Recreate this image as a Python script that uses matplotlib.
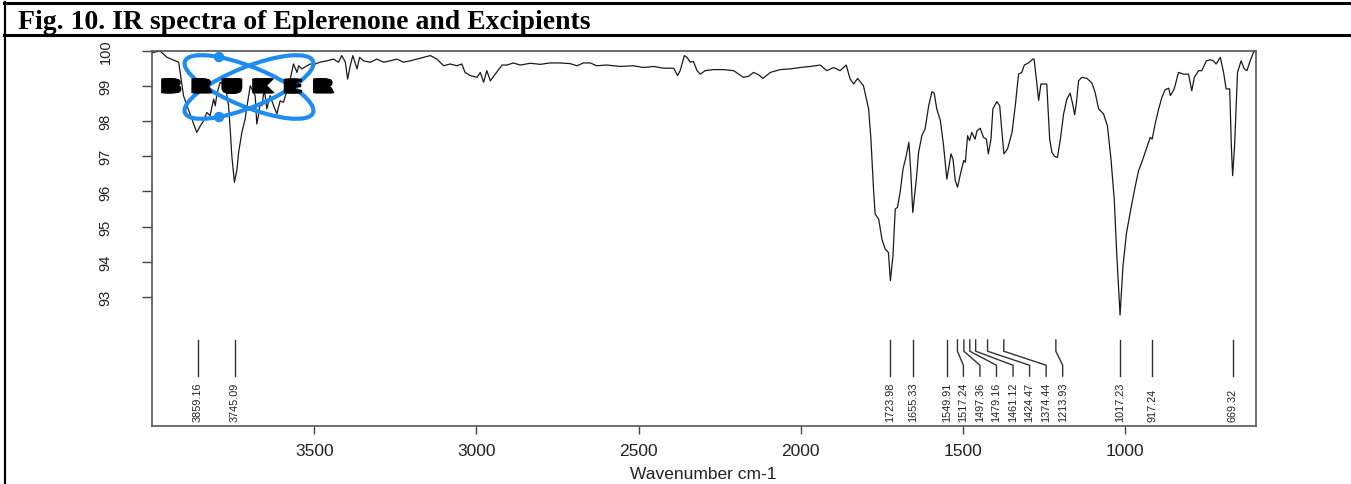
import matplotlib
matplotlib.use("Agg")
import matplotlib.pyplot as plt
import matplotlib.patheffects as pe
from matplotlib.patches import Ellipse, Circle

W, H = 1351, 485

# FT-IR trace: wavenumber (cm-1) and transmittance (%)
wavenumber = [
    3999, 3995, 3975, 3954, 3928, 3918, 3913, 3903, 3892, 3877, 3862, 3851,
    3841, 3831, 3821, 3810, 3805, 3800, 3790, 3774, 3764, 3759, 3754, 3746,
    3738, 3733, 3723, 3713, 3707, 3697, 3687, 3682, 3677, 3672, 3666, 3661,
    3654, 3646, 3636, 3625, 3615, 3605, 3595, 3584, 3574, 3564, 3553, 3548,
    3538, 3522, 3512, 3497, 3482, 3461, 3441, 3425, 3415, 3404, 3397, 3389,
    3381, 3368, 3360, 3348, 3327, 3307, 3286, 3266, 3245, 3225, 3204, 3183,
    3163, 3142, 3122, 3101, 3081, 3060, 3045, 3035, 3019, 2998, 2988, 2978,
    2968, 2957, 2942, 2921, 2906, 2886, 2865, 2834, 2803, 2773, 2742, 2711,
    2690, 2670, 2649, 2629, 2598, 2557, 2516, 2485, 2454, 2423, 2392, 2380,
    2372, 2359, 2351, 2341, 2331, 2320, 2310, 2295, 2269, 2238, 2207, 2177,
    2161, 2146, 2130, 2117, 2094, 2064, 2033, 2002, 1971, 1940, 1920, 1899,
    1879, 1860, 1848, 1837, 1825, 1807, 1791, 1784, 1776, 1771, 1760, 1750,
    1740, 1730, 1724, 1716, 1709, 1702, 1694, 1685, 1675, 1667, 1661, 1655,
    1644, 1637, 1627, 1617, 1606, 1596, 1589, 1581, 1570, 1560, 1550, 1537,
    1531, 1524, 1517, 1507, 1498, 1493, 1486, 1480, 1473, 1463, 1457, 1447,
    1437, 1428, 1422, 1414, 1408, 1396, 1387, 1380, 1374, 1363, 1349, 1339,
    1329, 1319, 1311, 1298, 1285, 1281, 1274, 1267, 1260, 1250, 1242, 1233,
    1226, 1218, 1209, 1200, 1190, 1180, 1170, 1162, 1156, 1151, 1144, 1134,
    1118, 1103, 1093, 1082, 1067, 1055, 1044, 1034, 1026, 1016, 1007, 996,
    981, 969, 959, 949, 935, 923, 917, 908, 897, 887, 877, 866,
    861, 849, 836, 820, 805, 795, 787, 774, 764, 750, 738, 728,
    720, 707, 697, 689, 678, 673, 669, 663, 654, 643, 633, 625,
    615, 604, 597,
]
transmittance = [
    99.95, 99.96, 100.0, 99.82, 99.72, 99.68, 99.39, 98.73, 98.44, 98.06, 97.68, 97.87,
    98.01, 98.25, 98.16, 98.63, 98.44, 98.77, 99.11, 99.01, 98.44, 97.78, 97.02, 96.26,
    96.64, 97.11, 97.68, 98.06, 98.44, 99.01, 98.82, 98.73, 97.92, 98.16, 98.54, 98.44,
    98.92, 98.35, 98.73, 98.44, 98.21, 98.58, 98.54, 98.87, 99.20, 99.63, 99.39, 99.58,
    99.49, 99.58, 99.63, 99.63, 99.68, 99.72, 99.77, 99.68, 99.87, 99.68, 99.20, 99.58,
    99.87, 99.49, 99.82, 99.72, 99.68, 99.77, 99.68, 99.72, 99.77, 99.68, 99.72, 99.77,
    99.82, 99.87, 99.77, 99.58, 99.63, 99.58, 99.63, 99.39, 99.30, 99.25, 99.39, 99.11,
    99.44, 99.15, 99.34, 99.60, 99.60, 99.66, 99.60, 99.65, 99.62, 99.66, 99.66, 99.64,
    99.58, 99.66, 99.66, 99.58, 99.60, 99.56, 99.58, 99.53, 99.56, 99.51, 99.51, 99.30,
    99.44, 99.87, 99.82, 99.68, 99.70, 99.44, 99.34, 99.44, 99.47, 99.47, 99.44, 99.25,
    99.28, 99.39, 99.32, 99.22, 99.39, 99.47, 99.49, 99.53, 99.56, 99.60, 99.44, 99.53,
    99.44, 99.60, 99.20, 99.06, 99.22, 99.01, 98.35, 97.49, 96.07, 95.36, 95.21, 94.64,
    94.36, 94.26, 93.46, 94.17, 95.50, 95.55, 95.97, 96.64, 97.02, 97.40, 96.54, 95.40,
    96.35, 97.11, 97.59, 97.78, 98.44, 98.84, 98.80, 98.35, 98.02, 97.30, 96.35, 97.07,
    96.92, 96.31, 96.12, 96.54, 96.88, 96.83, 97.59, 97.45, 97.68, 97.49, 97.73, 97.80,
    97.54, 97.49, 97.07, 97.49, 98.35, 98.56, 98.44, 97.68, 97.07, 97.21, 97.68, 98.44,
    99.34, 99.39, 99.60, 99.66, 99.77, 99.77, 99.20, 98.59, 99.06, 99.06, 99.06, 97.49,
    97.11, 97.00, 96.97, 97.49, 98.21, 98.63, 98.80, 98.49, 98.18, 98.49, 99.15, 99.25,
    99.22, 99.09, 98.82, 98.35, 98.21, 97.87, 96.92, 95.78, 94.17, 92.48, 93.88, 94.83,
    95.59, 96.16, 96.59, 96.83, 97.21, 97.54, 97.49, 97.92, 98.35, 98.68, 98.90, 98.94,
    98.73, 98.92, 99.39, 99.34, 99.34, 98.87, 99.25, 99.44, 99.44, 99.72, 99.75, 99.72,
    99.63, 99.82, 99.39, 98.92, 98.92, 97.30, 96.45, 97.30, 99.39, 99.72, 99.49, 99.44,
    99.72, 99.98, 99.98,
]

# picked peaks (cm-1)
peaks = [3859.16, 3745.09, 1723.98, 1655.33, 1549.91, 1517.24, 1497.36,
         1479.16, 1461.12, 1424.47, 1374.44, 1213.93, 1017.23, 917.24, 669.32]

xticks = [3500, 3000, 2500, 2000, 1500, 1000]
yticks = [93, 94, 95, 96, 97, 98, 99, 100]

title = "Fig. 10. IR spectra of Eplerenone and Excipients"
xlabel = "Wavenumber cm-1"

plt.rcParams["font.family"] = ["Liberation Sans", "DejaVu Sans"]

fig = plt.figure(figsize=(W / 100, H / 100), dpi=100)
fig.patch.set_facecolor("white")

ax = fig.add_axes([152 / W, 1 - 427 / H, (1256 - 152) / W, (427 - 52) / H])
ax.plot(wavenumber, transmittance, color="#1a1a1a", lw=0.9)
ax.set_xlim(4000, 597)
ax.set_ylim(89.32, 100)

ax.set_xticks(xticks)
ax.set_yticks(yticks)
ax.tick_params(axis="x", length=6, width=1, color="#444",
               pad=6.5, labelsize=12.5, labelcolor="#222")
ax.tick_params(axis="y", length=7.5, width=1, color="#444",
               pad=21, labelsize=10.5, labelcolor="#222", labelrotation=90)
for lab in ax.get_yticklabels():
    lab.set_va("center")
for s in ax.spines.values():
    s.set_color("#555")
    s.set_linewidth(1.2)

ax.set_xlabel(xlabel, fontsize=12.5, color="#222")
ax.xaxis.set_label_coords(0.499, -0.127)
ax.xaxis.label.set_va("center")

# peak markers, labels pushed apart where they crowd
min_gap = 51
label_x = []
for p in peaks:
    if label_x and label_x[-1] - p < min_gap:
        label_x.append(label_x[-1] - min_gap)
    else:
        label_x.append(p)

for p, lx in zip(peaks, label_x):
    ax.plot([p, p, lx, lx], [91.77, 91.45, 91.05, 90.74],
            color="#333", lw=1.0, solid_joinstyle="round")
    ax.text(lx, 89.46, f"{p:.2f}", rotation=90, ha="center", va="bottom",
            fontsize=7.8, color="#222")

# overlay in pixel units for the page frame, title and logo
ov = fig.add_axes([0, 0, 1, 1], zorder=5)
ov.set_xlim(0, W)
ov.set_ylim(H, 0)
ov.axis("off")

ov.plot([4, W], [4, 4], color="black", lw=2.2, clip_on=False)
ov.plot([4, W], [35.5, 35.5], color="black", lw=2.2, clip_on=False)
ov.plot([5, 5], [3, H], color="black", lw=1.6, clip_on=False)

ov.text(18, 29, title, family="Liberation Serif", fontweight="bold",
        fontsize=20, va="baseline", ha="left", color="black")

# Bruker logo
blue = "#1f8cf0"
for ang in (22, -22):
    ov.add_patch(Ellipse((249, 88), 138, 40, angle=ang, fill=False,
                         edgecolor=blue, lw=3.0))
for cy in (58, 118):
    ov.add_patch(Circle((219, cy), 4.5, color=blue))

# widen the letters by stamping them sideways
smear = [pe.SimpleLineShadow(offset=(1.0, -1.0), shadow_color="#777", alpha=0.8)]
smear += [pe.Stroke(offset=(d * 0.5, 0), linewidth=0.2, foreground="black")
          for d in range(-6, 7)]
letters = "BRUKER"
x0, x1 = 171, 323
for i, ch in enumerate(letters):
    cx = x0 + i * (x1 - x0) / (len(letters) - 1)
    ov.text(cx, 88.5, ch, family="DejaVu Sans", fontweight="bold",
            fontsize=14, ha="center", va="center", color="black",
            path_effects=smear)

fig.savefig("out.png", dpi=100)
